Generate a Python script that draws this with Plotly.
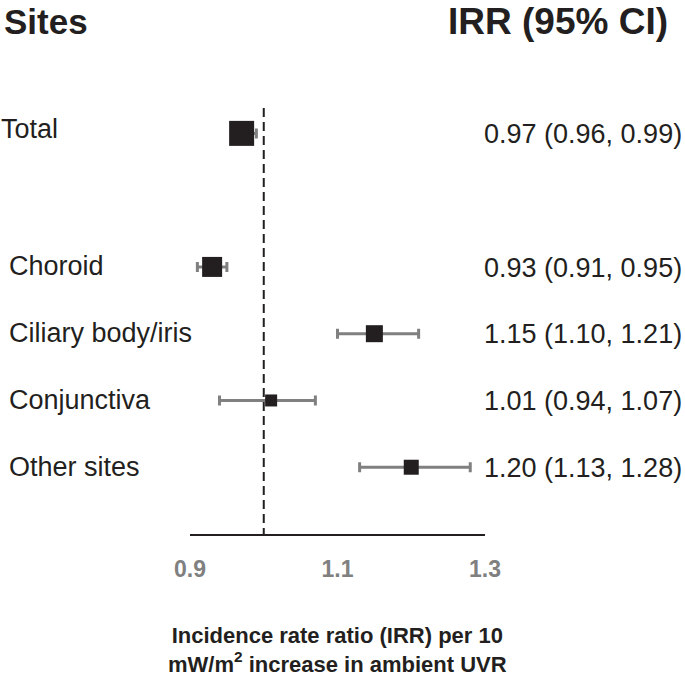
import plotly.graph_objects as go

# ---- data ----
sites = ["Total", "Choroid", "Ciliary body/iris", "Conjunctiva", "Other sites"]
row_pos = [0, 2, 3, 4, 5]
irr = [0.97, 0.93, 1.15, 1.01, 1.20]
ci_low = [0.96, 0.91, 1.10, 0.94, 1.13]
ci_high = [0.99, 0.95, 1.21, 1.07, 1.28]
tick_vals = [0.9, 1.1, 1.3]
tick_text = ["0.9", "1.1", "1.3"]
null_value = 1.0

# ---- style ----
marker_px = [25, 20, 17, 12, 15]
W, H = 685, 679
L, R, T, B = 190, 200, 100, 145
FONT = "Liberation Sans, Arial, sans-serif"
INK = "#231f20"
GRAY = "#808080"


def px_x(px):
    return (px - L) / (W - L - R)


def px_y(py):
    return (H - B - py) / (H - T - B)


fig = go.Figure()
# whiskers (drawn first)
fig.add_trace(go.Scatter(
    x=irr, y=row_pos, mode="markers",
    marker=dict(size=1, color="rgba(0,0,0,0)"),
    error_x=dict(type="data", symmetric=False,
                 array=[h - v for h, v in zip(ci_high, irr)],
                 arrayminus=[v - l for v, l in zip(irr, ci_low)],
                 color=GRAY, thickness=3, width=5),
    hoverinfo="skip", showlegend=False, cliponaxis=False,
))
# point estimates
fig.add_trace(go.Scatter(
    x=irr, y=row_pos, mode="markers",
    marker=dict(symbol="square", size=marker_px, color=INK, opacity=1,
                line=dict(width=0)),
    hoverinfo="skip", showlegend=False, cliponaxis=False,
))

fig.add_shape(type="line", x0=null_value, x1=null_value, y0=-0.38, y1=6.03,
              xref="x", yref="y", line=dict(color=INK, width=2, dash="9px,5px"))

ann = []
for s, r in zip(sites, row_pos):
    left = -1 if s == "Total" else 7
    dy = -0.06 if s == "Total" else -0.01
    ann.append(dict(text=s, x=px_x(left), y=r + dy, xref="paper", yref="y",
                    xanchor="left", yanchor="middle", showarrow=False,
                    font=dict(size=27, color=INK, family=FONT)))
for v, lo, hi, r in zip(irr, ci_low, ci_high, row_pos):
    ann.append(dict(text=f"{v:.2f} ({lo:.2f}, {hi:.2f})", x=px_x(684), y=r + 0.01,
                    xref="paper", yref="y", xanchor="right", yanchor="middle",
                    showarrow=False, font=dict(size=27, color=INK, family=FONT)))
ann.append(dict(text="<b>Sites</b>", x=px_x(2), y=px_y(21), xref="paper", yref="paper",
                xanchor="left", yanchor="middle", showarrow=False,
                font=dict(size=35, color=INK, family=FONT)))
ann.append(dict(text="<b>IRR (95% CI)</b>", x=px_x(670), y=px_y(21), xref="paper",
                yref="paper", xanchor="right", yanchor="middle", showarrow=False,
                font=dict(size=37, color=INK, family=FONT)))
ann.append(dict(text="<b>Incidence rate ratio (IRR) per 10<br>mW/m<sup>2</sup> increase in ambient UVR</b>",
                x=0.5, y=px_y(650), xref="paper", yref="paper",
                xanchor="center", yanchor="middle", showarrow=False, align="center",
                font=dict(size=22, color=INK, family=FONT)))

fig.update_layout(
    width=W, height=H, autosize=False,
    margin=dict(l=L, r=R, t=T, b=B, pad=0),
    paper_bgcolor="white", plot_bgcolor="white",
    font=dict(family=FONT, color=INK),
    annotations=ann,
    xaxis=dict(range=[0.9, 1.3], showgrid=False, zeroline=False, showline=True,
               linecolor=INK, linewidth=2, ticks="", tickvals=tick_vals,
               ticktext=[f"<b>{t}</b>" for t in tick_text],
               tickfont=dict(size=23, color=GRAY, family=FONT),
               ticklabelstandoff=13, fixedrange=True),
    yaxis=dict(range=[6.0, -0.5], visible=False, fixedrange=True),
)

fig.write_html("out.html", config={"displayModeBar": False, "staticPlot": True},
               post_script="document.body.style.margin='0';document.body.style.overflow='hidden';")
